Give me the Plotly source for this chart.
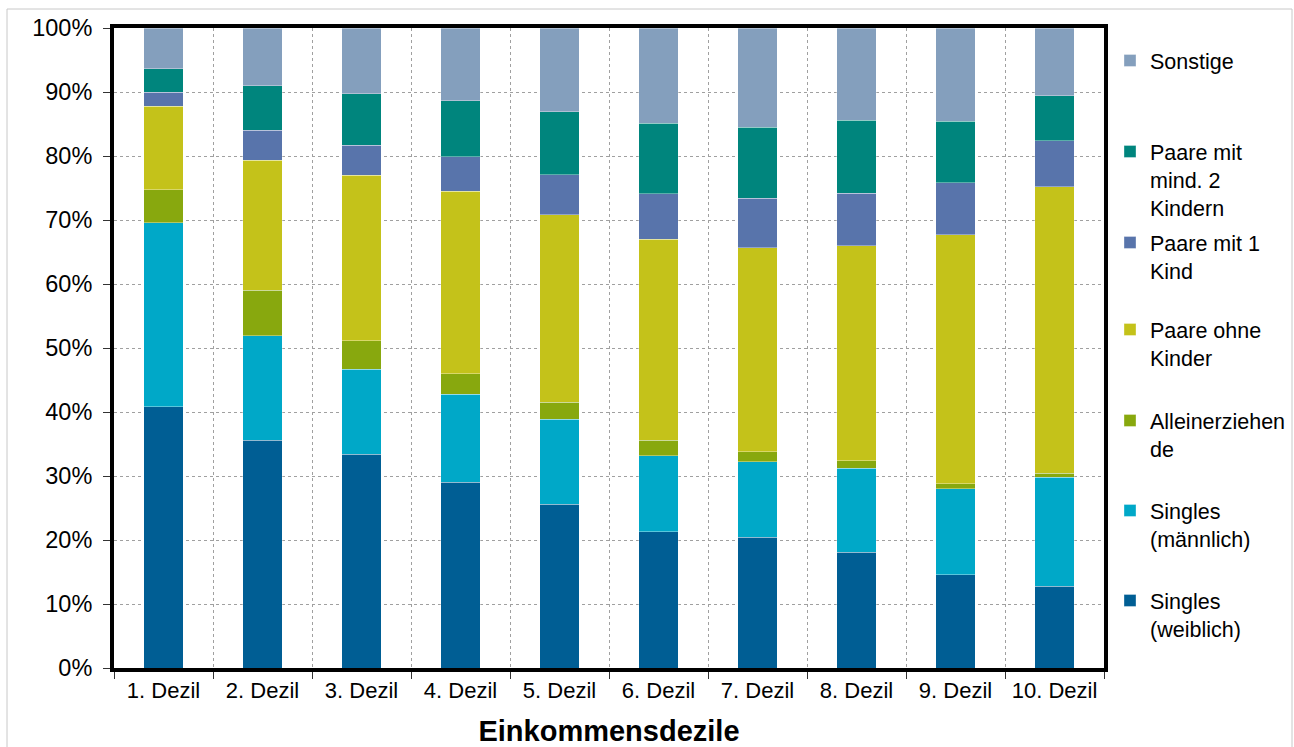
import plotly.graph_objects as go

# Einkommensdezile und Haushaltstypen (Anteile in %)
dezile = ["1. Dezil", "2. Dezil", "3. Dezil", "4. Dezil", "5. Dezil",
          "6. Dezil", "7. Dezil", "8. Dezil", "9. Dezil", "10. Dezil"]

singles_weiblich = [40.8, 35.6, 33.4, 29.0, 25.6, 21.3, 20.4, 18.1, 14.6, 12.8]
singles_maennlich = [28.8, 16.3, 13.3, 13.8, 13.3, 11.9, 11.8, 13.1, 13.4, 17.0]
alleinerziehende = [5.1, 7.1, 4.4, 3.2, 2.6, 2.4, 1.6, 1.2, 0.8, 0.6]
paare_ohne_kinder = [13.1, 20.3, 25.9, 28.5, 29.3, 31.4, 31.9, 33.6, 38.9, 44.8]
paare_1_kind = [2.2, 4.7, 4.7, 5.4, 6.3, 7.1, 7.7, 8.2, 8.1, 7.2]
paare_2_kinder = [3.6, 7.0, 8.0, 8.7, 9.8, 11.0, 11.1, 11.4, 9.6, 7.0]
sonstige = [6.4, 9.0, 10.3, 11.4, 13.1, 14.9, 15.5, 14.4, 14.6, 10.6]

reihen = [
    ("Singles<br>(weiblich)", singles_weiblich, "#005e94"),
    ("Singles<br>(männlich)", singles_maennlich, "#00a8c8"),
    ("Alleinerziehen<br>de", alleinerziehende, "#88a80e"),
    ("Paare ohne<br>Kinder", paare_ohne_kinder, "#c4c21a"),
    ("Paare mit 1<br>Kind", paare_1_kind, "#5874ab"),
    ("Paare mit<br>mind. 2<br>Kindern", paare_2_kinder, "#00857d"),
    ("Sonstige", sonstige, "#849fbd"),
]

# Pixel geometry of the plotting area
W, H = 1294, 747
PL, PR, PT, PB = 114, 1104, 28, 668
PW, PH = PR - PL, PB - PT

# first-line centre (px) of each legend entry, bottom series first
legend_px = [601, 511, 421, 330, 243, 152, 61]
FONT = "Liberation Sans, Arial, sans-serif"

fig = go.Figure()
layout_legends = {}
for i, (name, werte, farbe) in enumerate(reihen):
    key = "legend" if i == 0 else f"legend{i + 1}"
    fig.add_trace(go.Bar(
        x=dezile, y=werte, name=name, legend=key,
        marker=dict(color=farbe, line=dict(color="rgba(255,255,255,0.35)", width=1)),
    ))
    top_px = legend_px[i] - 21
    layout_legends[key] = dict(
        x=(1110 - PL) / PW, xanchor="left",
        y=(PB - top_px) / PH, yanchor="top",
        valign="top", bgcolor="rgba(0,0,0,0)", borderwidth=0,
        font=dict(family=FONT, size=21.5, color="#000"),
    )

fig.update_layout(
    width=W, height=H,
    barmode="stack", bargap=0.6,
    paper_bgcolor="white", plot_bgcolor="white",
    margin=dict(l=PL, r=W - PR, t=PT, b=H - PB, autoexpand=False),
    font=dict(family=FONT, color="#000"),
    showlegend=True,
    **layout_legends,
)

fig.update_xaxes(
    type="category", tickson="boundaries",
    ticks="outside", ticklen=7, tickcolor="#333", tickwidth=1,
    showgrid=True, griddash="dot", gridcolor="#a0a0a0", gridwidth=1,
    showline=True, linecolor="black", linewidth=4, mirror=True,
    tickfont=dict(family=FONT, size=22, color="#000"),
    title=dict(text="<b>Einkommensdezile</b>", standoff=20,
               font=dict(family=FONT, size=29, color="#000")),
    automargin=False,
)
fig.update_yaxes(
    range=[0, 100], dtick=10, ticksuffix="%",
    ticks="outside", ticklen=7, tickcolor="#333", tickwidth=1,
    showgrid=True, griddash="dot", gridcolor="#a0a0a0", gridwidth=1,
    showline=True, linecolor="black", linewidth=4, mirror=True,
    tickfont=dict(family=FONT, size=23.5, color="#000"),
    ticklabelstandoff=6,
    automargin=False, zeroline=False,
)

# light frame around the whole chart
fig.add_shape(
    type="rect", xref="paper", yref="paper", layer="below",
    x0=(7 - PL) / PW, x1=(1292 - PL) / PW,
    y0=(PB - 760) / PH, y1=(PB - 9) / PH,
    line=dict(color="#c8c8c8", width=1), fillcolor="rgba(0,0,0,0)",
)

fig.write_html("out.html")
